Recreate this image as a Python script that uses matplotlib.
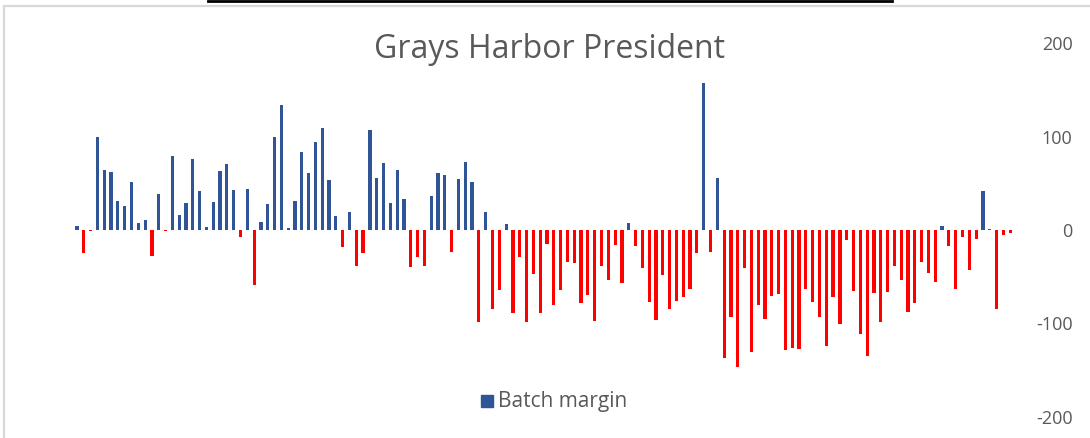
import matplotlib
matplotlib.use("Agg")
import matplotlib.pyplot as plt
from matplotlib.patches import Rectangle
from matplotlib.lines import Line2D

title = "Grays Harbor President"
series_name = "Batch margin"
margins = [
    4, -25, -1, 99, 64, 62, 31, 26, 51, 7, 11, -28, 38, -1, 79, 16, 29, 76, 42, 3,
    30, 63, 71, 43, -7, 44, -59, 9, 28, 100, 134, 2, 31, 83, 61, 94, 109, 54, 15, -18,
    19, -39, -25, 107, 56, 72, 29, 64, 33, -40, -29, -38, 36, 61, 59, -24, 55, 73, 51, -98,
    19, -84, -64, 6, -89, -29, -98, -47, -89, -15, -80, -64, -34, -35, -78, -70, -97, -39, -53, -16,
    -57, 8, -17, -41, -77, -96, -48, -85, -76, -72, -63, -25, 157, -24, 56, -137, -93, -146, -41, -130,
    -80, -95, -71, -68, -128, -126, -127, -63, -77, -93, -124, -72, -101, -11, -65, -111, -135, -67, -98, -66,
    -38, -54, -88, -78, -34, -46, -56, 4, -17, -63, -7, -43, -10, 42, 1, -85, -5, -3,
]
yticks = [-200, -100, 0, 100, 200]

BLUE = "#2F5597"
RED = "#FF0000"
GREY = "#595959"

fig = plt.figure(figsize=(10.9, 4.38), dpi=100)
fig.patch.set_facecolor("white")

# chart frame and top black strip
fig.add_artist(Line2D([4/1090, 4/1090], [0, 1 - 6/438], transform=fig.transFigure, color="#d9d9d9", lw=1.6))
fig.add_artist(Line2D([4/1090, 1], [1 - 6/438, 1 - 6/438], transform=fig.transFigure, color="#d9d9d9", lw=1.6))
fig.add_artist(Line2D([208/1090, 892/1090], [1 - 1/438, 1 - 1/438], transform=fig.transFigure, color="black", lw=2.0))

ax = fig.add_axes([73.6/1090, 1 - 417/438, 940/1090, 374/438])
x = list(range(len(margins)))
colors = [BLUE if v >= 0 else RED for v in margins]
ax.bar(x, margins, width=0.47, color=colors, linewidth=0)
ax.set_xlim(-0.5, len(margins) - 0.5)
ax.set_ylim(-200, 200)
for s in ax.spines.values():
    s.set_visible(False)
ax.set_xticks([])
ax.yaxis.tick_right()
ax.set_yticks(yticks)
ax.set_yticklabels([str(t) for t in yticks])
ax.tick_params(axis="y", length=0, pad=42.5, labelsize=13, labelcolor=GREY)
for lbl in ax.get_yticklabels():
    lbl.set_horizontalalignment("right")
    lbl.set_fontfamily("Open Sans")

fig.text(550/1090, 1 - 50/438, title, ha="center", va="center",
         fontsize=23, color=GREY, family="Open Sans")

# legend
fig.add_artist(Rectangle((481/1090, 1 - 407/438), 12/1090, 12/438,
                         transform=fig.transFigure, color=BLUE))
fig.text(498/1090, 1 - 401/438, series_name, ha="left", va="center",
         fontsize=15, color=GREY, family="Open Sans")

fig.savefig("out.png", dpi=100, facecolor="white")
